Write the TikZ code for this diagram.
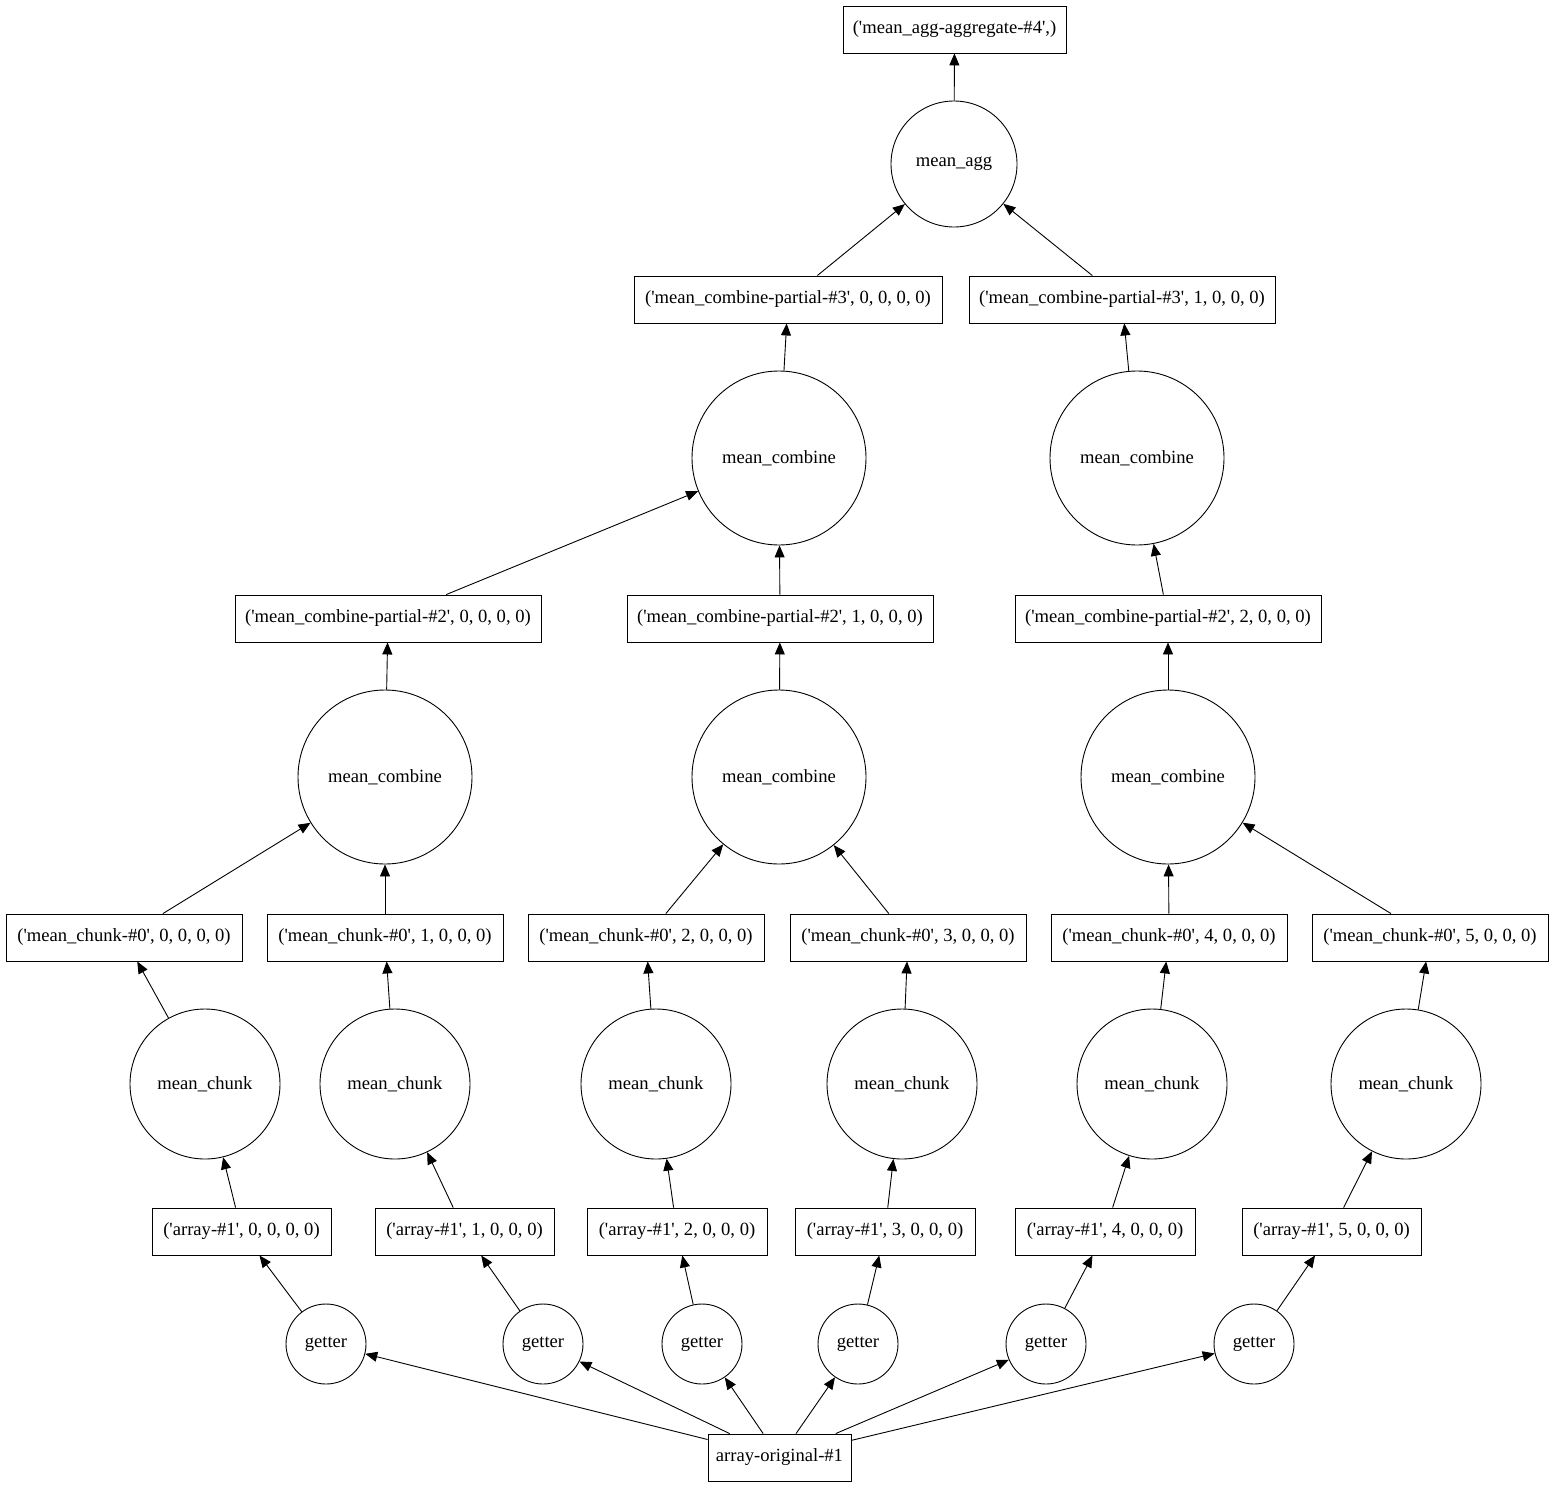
\documentclass[tikz,border=0pt]{standalone}
\usepackage{fontspec}
\setmainfont{Liberation Serif}
\usepackage{tikz}
\usetikzlibrary{arrows.meta, shapes.geometric}

\newcommand{\tkq}{\textquotesingle}

\begin{document}
\begin{tikzpicture}[
        x=1pt, y=-1pt,
        font=\fontsize{18.6pt}{20pt}\selectfont,
        task/.style={circle, draw=black, line width=0.9pt, inner sep=0pt},
        data/.style={rectangle, draw=black, line width=0.9pt, inner sep=0pt, minimum height=47pt},
        arrow/.style={-{Triangle[length=12pt, width=10pt]}, line width=0.9pt}
    ]
        \useasboundingbox (0,0) rectangle (1555,1488);

        % top
        \node[data, minimum width=223pt] (agg_out) at (954.5,29.5) {(\tkq mean\_agg-aggregate-\#4\tkq,)};
        \node[task, minimum size=126pt] (agg) at (954,164) {mean\_agg};

        \node[data, minimum width=308pt] (part3_0) at (788,299.5) {(\tkq mean\_combine-partial-\#3\tkq, 0, 0, 0, 0)};
        \node[data, minimum width=306pt] (part3_1) at (1122,299.5) {(\tkq mean\_combine-partial-\#3\tkq, 1, 0, 0, 0)};

        \node[task, minimum size=174pt] (comb2_0) at (779,458) {mean\_combine};
        \node[task, minimum size=174pt] (comb2_1) at (1137,458) {mean\_combine};

        \node[data, minimum width=306pt] (part2_0) at (388,618.5) {(\tkq mean\_combine-partial-\#2\tkq, 0, 0, 0, 0)};
        \node[data, minimum width=306pt] (part2_1) at (780,618.5) {(\tkq mean\_combine-partial-\#2\tkq, 1, 0, 0, 0)};
        \node[data, minimum width=306pt] (part2_2) at (1168,618.5) {(\tkq mean\_combine-partial-\#2\tkq, 2, 0, 0, 0)};

        \node[task, minimum size=174pt] (comb1_0) at (385,777) {mean\_combine};
        \node[task, minimum size=174pt] (comb1_1) at (779,777) {mean\_combine};
        \node[task, minimum size=174pt] (comb1_2) at (1168,777) {mean\_combine};

        % chunks
        \node[data, minimum width=236pt] (chunk_0) at (124,937.5) {(\tkq mean\_chunk-\#0\tkq, 0, 0, 0, 0)};
        \node[data, minimum width=236pt] (chunk_1) at (385,937.5) {(\tkq mean\_chunk-\#0\tkq, 1, 0, 0, 0)};
        \node[data, minimum width=236pt] (chunk_2) at (646,937.5) {(\tkq mean\_chunk-\#0\tkq, 2, 0, 0, 0)};
        \node[data, minimum width=236pt] (chunk_3) at (908,937.5) {(\tkq mean\_chunk-\#0\tkq, 3, 0, 0, 0)};
        \node[data, minimum width=236pt] (chunk_4) at (1169,937.5) {(\tkq mean\_chunk-\#0\tkq, 4, 0, 0, 0)};
        \node[data, minimum width=236pt] (chunk_5) at (1430,937.5) {(\tkq mean\_chunk-\#0\tkq, 5, 0, 0, 0)};

        \node[task, minimum size=150pt] (mc_0) at (205,1084) {mean\_chunk};
        \node[task, minimum size=150pt] (mc_1) at (395,1084) {mean\_chunk};
        \node[task, minimum size=150pt] (mc_2) at (656,1084) {mean\_chunk};
        \node[task, minimum size=150pt] (mc_3) at (902,1084) {mean\_chunk};
        \node[task, minimum size=150pt] (mc_4) at (1152,1084) {mean\_chunk};
        \node[task, minimum size=150pt] (mc_5) at (1406,1084) {mean\_chunk};

        % arrays
        \node[data, minimum width=179pt] (arr_0) at (241.5,1231.5) {(\tkq array-\#1\tkq, 0, 0, 0, 0)};
        \node[data, minimum width=179pt] (arr_1) at (464.5,1231.5) {(\tkq array-\#1\tkq, 1, 0, 0, 0)};
        \node[data, minimum width=180pt] (arr_2) at (677,1231.5) {(\tkq array-\#1\tkq, 2, 0, 0, 0)};
        \node[data, minimum width=180pt] (arr_3) at (885,1231.5) {(\tkq array-\#1\tkq, 3, 0, 0, 0)};
        \node[data, minimum width=180pt] (arr_4) at (1105,1231.5) {(\tkq array-\#1\tkq, 4, 0, 0, 0)};
        \node[data, minimum width=179pt] (arr_5) at (1331.5,1231.5) {(\tkq array-\#1\tkq, 5, 0, 0, 0)};

        \node[task, minimum size=80pt] (get_0) at (326,1344) {getter};
        \node[task, minimum size=80pt] (get_1) at (543,1344) {getter};
        \node[task, minimum size=80pt] (get_2) at (702,1344) {getter};
        \node[task, minimum size=80pt] (get_3) at (858,1344) {getter};
        \node[task, minimum size=80pt] (get_4) at (1046,1344) {getter};
        \node[task, minimum size=80pt] (get_5) at (1254,1344) {getter};

        \node[data, minimum width=143pt] (orig) at (779.5,1457.5) {array-original-\#1};

        % edges
        \draw[arrow] (orig) -- (get_0);
        \draw[arrow] (orig) -- (get_1);
        \draw[arrow] (orig) -- (get_2);
        \draw[arrow] (orig) -- (get_3);
        \draw[arrow] (orig) -- (get_4);
        \draw[arrow] (orig) -- (get_5);

        \draw[arrow] (get_0) -- (arr_0);
        \draw[arrow] (get_1) -- (arr_1);
        \draw[arrow] (get_2) -- (arr_2);
        \draw[arrow] (get_3) -- (arr_3);
        \draw[arrow] (get_4) -- (arr_4);
        \draw[arrow] (get_5) -- (arr_5);

        \draw[arrow] (arr_0) -- (mc_0);
        \draw[arrow] (arr_1) -- (mc_1);
        \draw[arrow] (arr_2) -- (mc_2);
        \draw[arrow] (arr_3) -- (mc_3);
        \draw[arrow] (arr_4) -- (mc_4);
        \draw[arrow] (arr_5) -- (mc_5);

        \draw[arrow] (mc_0) -- (chunk_0);
        \draw[arrow] (mc_1) -- (chunk_1);
        \draw[arrow] (mc_2) -- (chunk_2);
        \draw[arrow] (mc_3) -- (chunk_3);
        \draw[arrow] (mc_4) -- (chunk_4);
        \draw[arrow] (mc_5) -- (chunk_5);

        \draw[arrow] (chunk_0) -- (comb1_0);
        \draw[arrow] (chunk_1) -- (comb1_0);
        \draw[arrow] (chunk_2) -- (comb1_1);
        \draw[arrow] (chunk_3) -- (comb1_1);
        \draw[arrow] (chunk_4) -- (comb1_2);
        \draw[arrow] (chunk_5) -- (comb1_2);

        \draw[arrow] (comb1_0) -- (part2_0);
        \draw[arrow] (comb1_1) -- (part2_1);
        \draw[arrow] (comb1_2) -- (part2_2);

        \draw[arrow] (part2_0) -- (comb2_0);
        \draw[arrow] (part2_1) -- (comb2_0);
        \draw[arrow] (part2_2) -- (comb2_1);

        \draw[arrow] (comb2_0) -- (part3_0);
        \draw[arrow] (comb2_1) -- (part3_1);

        \draw[arrow] (part3_0) -- (agg);
        \draw[arrow] (part3_1) -- (agg);
        \draw[arrow] (agg) -- (agg_out);

    \end{tikzpicture}
\end{document}
